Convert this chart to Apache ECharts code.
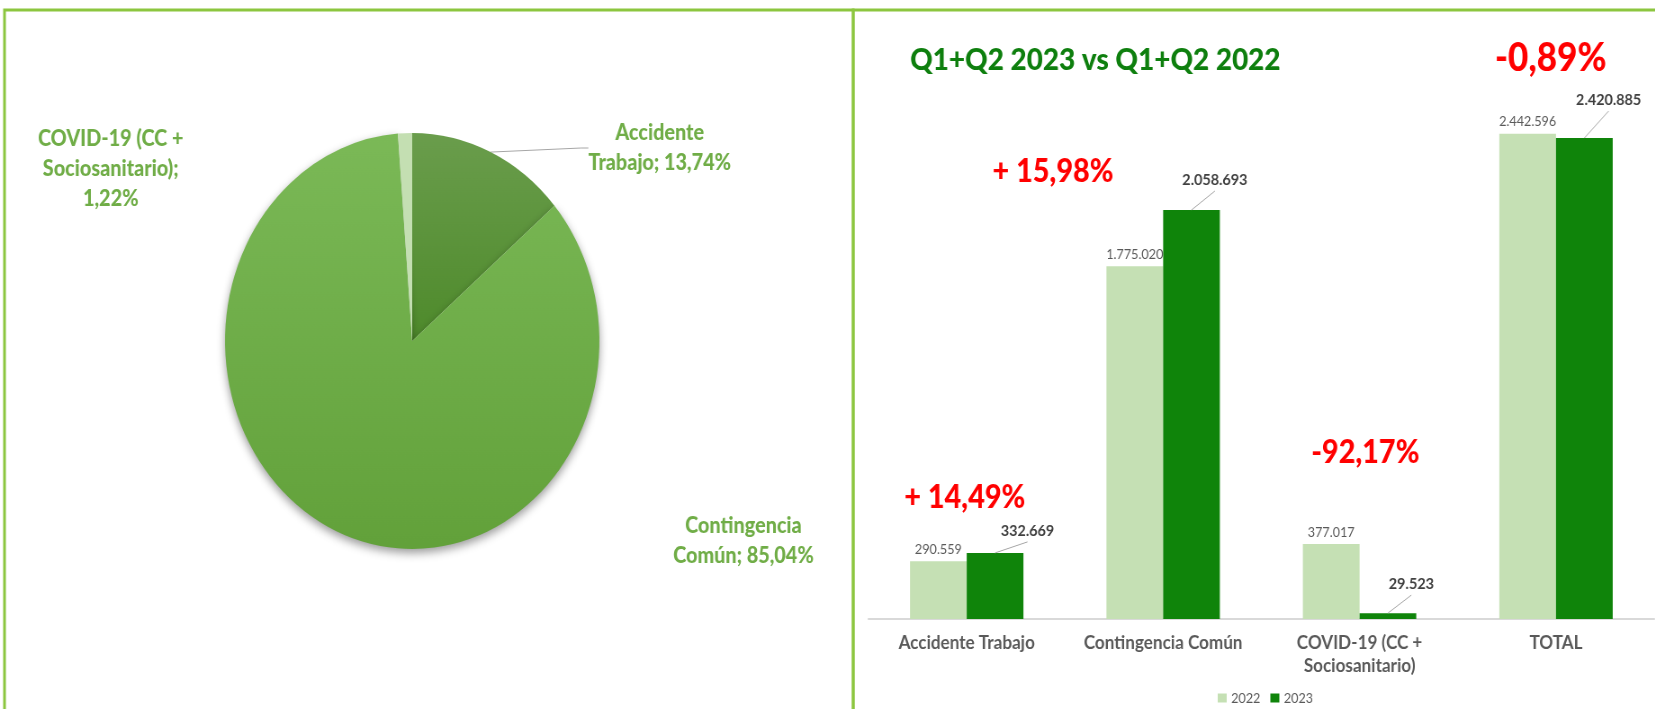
<!DOCTYPE html>
<html>
<head>
<meta charset="utf-8">
<script src="https://cdn.jsdelivr.net/npm/echarts@6/dist/echarts.min.js"></script>
<style>
    html, body { margin: 0; padding: 0; background: #fff; overflow: hidden; }
    /* the source picture is squeezed horizontally, so draw wider and squeeze */
    #chart { width: 1839px; height: 709px; transform: scaleX(0.9); transform-origin: 0 0; }
</style>
</head>
<body>
<div id="chart"></div>
<script>
// pie: share of each contingency (%)
const pieNames = ['Accidente Trabajo', 'Contingencia Común', 'COVID-19 (CC + Sociosanitario)'];
const pieShares = [13.74, 85.04, 1.22];
const pieLabelNames = ['Accidente\nTrabajo; ', 'Contingencia\nComún; ', 'COVID-19 (CC +\nSociosanitario);\n'];

// bars: Q1+Q2 totals
const categories = ['Accidente Trabajo', 'Contingencia Común', 'COVID-19 (CC +\nSociosanitario)', 'TOTAL'];
const seriesNames = ['2022', '2023'];
const values2022 = [290559, 1775020, 377017, 2442596];
const values2023 = [332669, 2058693, 29523, 2420885];
const changeLabels = ['+ 14,49%', '+ 15,98%', '-92,17%', '-0,89%'];
const chartTitle = 'Q1+Q2 2023 vs Q1+Q2 2022';

const FONT = 'Lato, "Open Sans", sans-serif';
const BAR_W = 63;

// layout (chart space, before the 0.9 squeeze)
const pieLabelPos = [[733, 148], [826, 541], [123, 169]];
const changePos = [[1072, 498], [1170, 172], [1517, 453], [1723, 58]];
const label2023Shift = [[36, -11], [26, -19], [26, -18], [27, -27]];

function fmtThousands(v) {
    return String(v).replace(/\B(?=(\d{3})+(?!\d))/g, '.');
}

function fmtShare(v) {
    return v.toFixed(2).replace('.', ',') + '%';
}

const pieStyles = [
    { color: new echarts.graphic.LinearGradient(0, 0, 0, 1, [
        { offset: 0, color: '#6a9d4c' }, { offset: 1, color: '#4e8a2b' }]) },
    { color: new echarts.graphic.LinearGradient(0, 0, 0, 1, [
        { offset: 0, color: '#7bb957' }, { offset: 1, color: '#62a13a' }]),
      shadowBlur: 10, shadowOffsetY: 4, shadowColor: 'rgba(0,0,0,0.4)' },
    { color: '#c4dfb2' },
];

const pieData = pieNames.map((name, i) => ({
    name,
    value: pieShares[i],
    itemStyle: pieStyles[i],
    labelLine: { show: i === 0 },
}));

const graphicEls = [
    {
        type: 'rect', z: -1,
        shape: { x: 5, y: 10, width: 943, height: 760 },
        style: { fill: 'none', stroke: '#8cc63f', lineWidth: 3 },
    },
    {
        type: 'rect', z: -1,
        shape: { x: 948, y: 10, width: 1000, height: 760 },
        style: { fill: 'none', stroke: '#8cc63f', lineWidth: 3 },
    },
    {
        type: 'text',
        style: {
            text: chartTitle, x: 1217, y: 60,
            fill: '#0e7f0e', font: '900 31px ' + FONT,
            align: 'center', verticalAlign: 'middle',
            textAlign: 'center', textVerticalAlign: 'middle',
        },
    },
];

changeLabels.forEach((txt, i) => {
    graphicEls.push({
        type: 'text',
        style: {
            text: txt, x: changePos[i][0], y: changePos[i][1],
            fill: '#ff0000', font: '900 ' + (i === 3 ? 39 : 32) + 'px ' + FONT,
            align: 'center', verticalAlign: 'middle',
            textAlign: 'center', textVerticalAlign: 'middle',
        },
    });
});

// leader line + bold value label above each 2023 bar
function render2023Label(params, api) {
    const top = api.coord([api.value(0), api.value(1)]);
    const bx = top[0] + BAR_W / 2;
    const shift = label2023Shift[params.dataIndex];
    const ex = bx + shift[0];
    const ey = top[1] + shift[1];
    return {
        type: 'group',
        children: [
            {
                type: 'line',
                shape: { x1: bx, y1: top[1], x2: ex, y2: ey },
                style: { stroke: '#a6a6a6', lineWidth: 1 },
            },
            {
                type: 'text',
                style: {
                    text: fmtThousands(api.value(1)),
                    x: ex, y: ey - 3,
                    align: 'center', verticalAlign: 'bottom',
                    fill: '#404040', font: 'bold 16px ' + FONT,
                },
            },
        ],
    };
}

const option = {
    animation: false,
    graphic: graphicEls,
    legend: {
        data: seriesNames,
        left: 1348,
        top: 686,
        icon: 'rect',
        itemWidth: 10,
        itemHeight: 9,
        itemGap: 11,
        textStyle: { color: '#595959', fontSize: 14, fontFamily: FONT },
    },
    grid: {
        left: 965,
        right: 1,
        top: 23,
        bottom: 90,
    },
    xAxis: {
        type: 'category',
        data: categories,
        axisTick: { show: false },
        axisLine: { lineStyle: { color: '#d9d9d9', width: 2 } },
        axisLabel: {
            interval: 0,
            margin: 12,
            color: '#595959',
            fontSize: 19,
            fontWeight: 'bold',
            fontFamily: FONT,
            lineHeight: 23,
        },
    },
    yAxis: {
        type: 'value',
        min: 0,
        max: 3000000,
        show: false,
        splitLine: { show: false },
    },
    series: [
        {
            name: 'pie',
            type: 'pie',
            center: [458, 341],
            radius: 208,
            startAngle: 90,
            legendHoverLink: false,
            data: pieData,
            label: {
                color: '#70ad47',
                fontFamily: FONT,
                fontWeight: 900,
                fontSize: 22,
                lineHeight: 30,
                formatter: (p) => pieLabelNames[p.dataIndex] + fmtShare(p.value),
            },
            labelLine: {
                length2: 8,
                lineStyle: { color: '#a6a6a6', width: 1 },
            },
            labelLayout: (p) => ({
                x: pieLabelPos[p.dataIndex][0],
                y: pieLabelPos[p.dataIndex][1],
                align: 'center',
                verticalAlign: 'middle',
            }),
        },
        {
            name: '2022',
            type: 'bar',
            data: values2022,
            barWidth: BAR_W,
            barGap: '0%',
            itemStyle: { color: '#c5e0b4' },
            label: {
                show: true,
                position: 'top',
                distance: 5,
                color: '#595959',
                fontSize: 14,
                fontFamily: FONT,
                formatter: (p) => fmtThousands(p.value),
            },
        },
        {
            name: '2023',
            type: 'bar',
            data: values2023,
            barWidth: BAR_W,
            barGap: '0%',
            itemStyle: { color: '#0f840a' },
        },
        {
            name: '2023 labels',
            type: 'custom',
            silent: true,
            z: 3,
            data: values2023.map((v, i) => [i, v]),
            renderItem: render2023Label,
        },
    ],
};

const myChart = echarts.init(document.getElementById('chart'));
myChart.setOption(option);
</script>
</body>
</html>
